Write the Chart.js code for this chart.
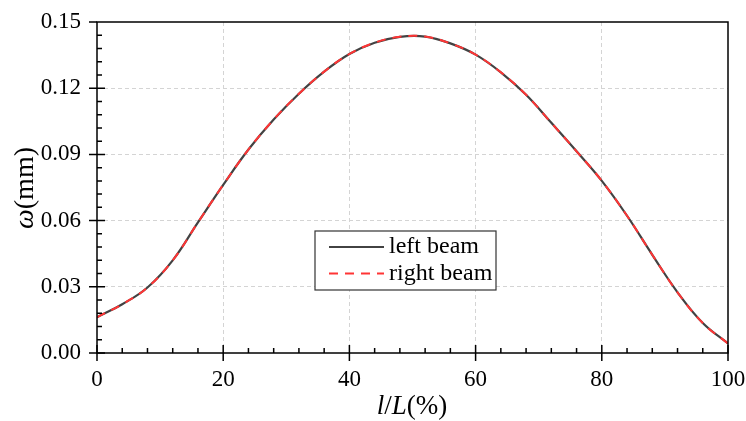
<!DOCTYPE html>
<html>
<head>
<meta charset="utf-8">
<script src="https://cdn.jsdelivr.net/npm/chart.js@4"></script>
<style>
    html, body { margin: 0; padding: 0; background: #fff; }
    #wrap { position: relative; width: 746px; height: 421px; }
</style>
</head>
<body>
<div id="wrap"><canvas id="beamChart"></canvas></div>
<script>
const positions = [0, 4, 8, 12, 16, 20, 24, 28, 32, 36, 40, 44, 48, 52, 56, 60, 64, 68, 72, 76, 80, 84, 88, 92, 96, 100];
const leftBeam = [0.0162, 0.0221, 0.0297, 0.0420, 0.0592, 0.0762, 0.0922, 0.1058, 0.1175, 0.1275, 0.1355, 0.1406, 0.1433,
    0.1434, 0.1403, 0.1352, 0.1272, 0.1170, 0.1043, 0.0914, 0.0780, 0.0622, 0.0445, 0.0275, 0.0136, 0.0043];
const rightBeam = [0.0162, 0.0221, 0.0297, 0.0420, 0.0592, 0.0762, 0.0922, 0.1058, 0.1175, 0.1275, 0.1355, 0.1406, 0.1433,
    0.1434, 0.1403, 0.1352, 0.1272, 0.1170, 0.1043, 0.0914, 0.0780, 0.0622, 0.0445, 0.0275, 0.0136, 0.0043];
const seriesNames = ['left beam', 'right beam'];
const xTicks = [0, 20, 40, 60, 80, 100];
const yTicks = [0.00, 0.03, 0.06, 0.09, 0.12, 0.15];

const serif = '"Liberation Serif", "Times New Roman", serif';
const lineColors = ['#424242', '#ff3535'];

// draw a row of text pieces, some italic, centred on (cx, cy)
function drawMixed(ctx, pieces, cx, cy, size) {
    const widths = pieces.map(p => {
        ctx.font = `${p.italic ? 'italic ' : ''}${size}px ${serif}`;
        return ctx.measureText(p.text).width;
    });
    let x = cx - widths.reduce((a, b) => a + b, 0) / 2;
    pieces.forEach((p, i) => {
        ctx.font = `${p.italic ? 'italic ' : ''}${size}px ${serif}`;
        ctx.fillText(p.text, x, cy);
        x += widths[i];
    });
}

const framePlugin = {
    id: 'frame',
    afterDraw(chart) {
        const { ctx, chartArea: a, scales } = chart;
        const xs = scales.x, ys = scales.y;
        ctx.save();
        ctx.strokeStyle = '#000';
        ctx.lineWidth = 1.5;
        ctx.strokeRect(a.left, a.top, a.right - a.left, a.bottom - a.top);
        ctx.beginPath();
        for (let v = 0; v <= 100; v += 4) {
            const px = xs.getPixelForValue(v);
            const major = xTicks.includes(v);
            ctx.moveTo(px, a.bottom + (major ? 8 : 0));
            ctx.lineTo(px, a.bottom - (major ? 8 : 5));
        }
        for (let i = 0; i <= 25; i++) {
            const py = ys.getPixelForValue(i * 0.006);
            const major = i % 5 === 0;
            if (i === 25) {
                ctx.moveTo(a.left - 8, py);
                ctx.lineTo(a.left, py);
                continue;
            }
            ctx.moveTo(a.left - (major ? 8 : 0), py);
            ctx.lineTo(a.left + (major ? 8 : 5), py);
        }
        ctx.stroke();

        // legend
        const lx = 315, ly = 231, lw = 181, lh = 59;
        ctx.fillStyle = '#fff';
        ctx.fillRect(lx, ly, lw, lh);
        ctx.strokeStyle = '#333';
        ctx.lineWidth = 1.2;
        ctx.strokeRect(lx, ly, lw, lh);
        chart.data.datasets.forEach((ds, i) => {
            const y = ly + 16 + i * 26.5;
            ctx.beginPath();
            ctx.strokeStyle = ds.borderColor;
            ctx.lineWidth = 2;
            ctx.setLineDash(ds.borderDash || []);
            ctx.moveTo(329, y);
            ctx.lineTo(384, y);
            ctx.stroke();
            ctx.setLineDash([]);
            ctx.fillStyle = '#000';
            ctx.font = `24px ${serif}`;
            ctx.textBaseline = 'middle';
            ctx.textAlign = 'left';
            ctx.fillText(ds.label, 389, y);
        });

        // axis titles
        ctx.fillStyle = '#000';
        ctx.textBaseline = 'middle';
        ctx.textAlign = 'left';
        drawMixed(ctx, [{ text: 'l', italic: true }, { text: '/' }, { text: 'L', italic: true }, { text: '(%)' }], 412, 407, 27);
        ctx.translate(26, 188);
        ctx.rotate(-Math.PI / 2);
        drawMixed(ctx, [{ text: 'ω', italic: true }, { text: '(mm)' }], 0, 0, 28);
        ctx.restore();
    }
};

const interiorGrid = ctx => (ctx.index === 0 || ctx.index === ctx.scale.ticks.length - 1) ? 'rgba(0,0,0,0)' : '#d4d4d4';

new Chart(document.getElementById('beamChart'), {
    type: 'line',
    data: {
        datasets: [
            { label: seriesNames[0], data: positions.map((x, i) => ({ x, y: leftBeam[i] })), borderColor: lineColors[0], borderWidth: 2.2, pointRadius: 0, tension: 0.4, fill: false, order: 2 },
            { label: seriesNames[1], data: positions.map((x, i) => ({ x, y: rightBeam[i] })), borderColor: lineColors[1], borderWidth: 2, borderDash: [9, 7], pointRadius: 0, tension: 0.4, fill: false, order: 1 }
        ]
    },
    options: {
        responsive: true,
        maintainAspectRatio: false,
        animation: false,
        layout: { padding: { top: 22, right: 18, left: 0, bottom: 0 } },
        plugins: { legend: { display: false }, tooltip: { enabled: false } },
        scales: {
            x: {
                type: 'linear', min: 0, max: 100,
                afterBuildTicks: scale => { scale.ticks = xTicks.map(value => ({ value })); },
                afterFit: scale => { scale.height = 68; scale.paddingLeft = 0; scale.paddingRight = 0; },
                grid: { color: interiorGrid, drawTicks: false, lineWidth: 1 },
                border: { display: false, dash: [4, 3] },
                ticks: { padding: 13, color: '#000', font: { family: serif, size: 23 }, maxRotation: 0 }
            },
            y: {
                min: 0, max: 0.15,
                afterBuildTicks: scale => { scale.ticks = yTicks.map(value => ({ value })); },
                afterFit: scale => { scale.width = 97; scale.paddingTop = 0; scale.paddingBottom = 0; },
                grid: { color: interiorGrid, drawTicks: false, lineWidth: 1 },
                border: { display: false, dash: [4, 3] },
                ticks: { padding: 16, color: '#000', font: { family: serif, size: 23 }, callback: v => v.toFixed(2) }
            }
        }
    },
    plugins: [framePlugin]
});
</script>
</body>
</html>
